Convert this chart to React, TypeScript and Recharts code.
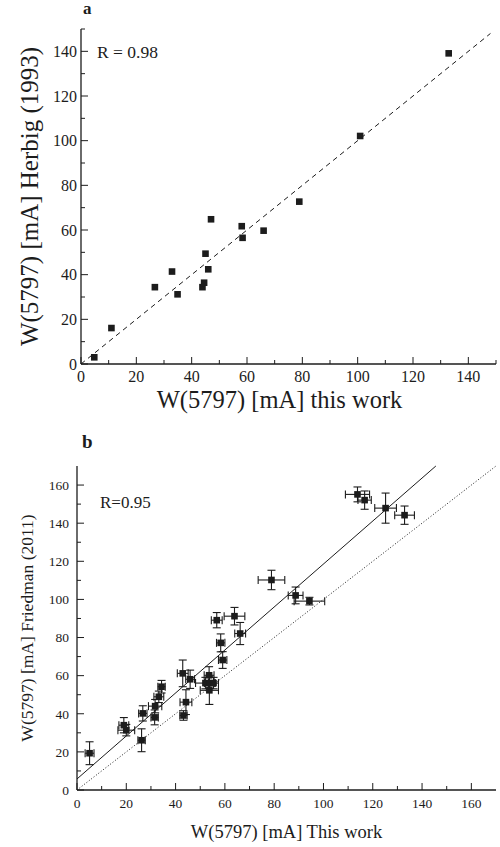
import { ScatterChart, Scatter, XAxis, YAxis, ReferenceLine, ErrorBar } from "recharts";

// panel a: this work vs Herbig (1993)
const aX = [4.8, 11.0, 26.7, 32.9, 34.9, 43.9, 44.5, 45.0, 46.0, 47.0, 58.1, 58.4, 66.0, 78.9, 100.9, 132.9];
const aY = [3.0, 16.1, 34.4, 41.4, 31.2, 34.4, 36.4, 49.4, 42.4, 64.8, 61.7, 56.5, 59.7, 72.7, 102.1, 139.1];
const aTicks = [0, 10, 20, 30, 40, 50, 60, 70, 80, 90, 100, 110, 120, 130, 140, 150];
const aDiag = [{ x: 0, y: 0 }, { x: 148, y: 148 }];

// panel b: this work vs Friedman (2011), with errors
const bX = [5.1, 19.0, 20.0, 26.2, 26.7, 31.5, 31.7, 33.2, 34.3, 43.2, 44.2, 42.9, 45.9, 52.1, 53.6, 53.7, 55.4, 53.7, 56.7, 58.3, 59.1, 63.9, 66.2, 78.9, 88.7, 94.3, 113.8, 116.7, 125.2, 132.9];
const bY = [19.3, 34.0, 31.4, 26.1, 40.2, 38.1, 44.0, 48.9, 54.2, 39.1, 46.1, 61.2, 58.1, 56.1, 60.2, 56.1, 56.1, 52.3, 89.1, 77.2, 68.2, 91.2, 82.1, 110.2, 102.1, 99.1, 155.1, 152.1, 147.9, 144.2];
const bXErr = [1.8, 2.0, 3.4, 1.5, 1.7, 1.5, 2.7, 2.0, 1.5, 1.5, 2.4, 2.2, 1.8, 4.0, 2.0, 2.0, 2.0, 3.7, 2.2, 1.7, 1.7, 4.2, 2.2, 5.4, 3.0, 6.2, 4.9, 2.7, 4.4, 4.0];
const bYErr = [6.0, 4.0, 3.0, 6.0, 4.0, 3.9, 3.5, 3.0, 3.3, 2.5, 6.5, 7.0, 4.8, 3.0, 4.5, 3.0, 3.0, 7.4, 4.0, 4.7, 4.4, 4.6, 5.8, 5.1, 4.4, 2.0, 3.9, 4.8, 7.9, 4.8];
const bTicks = [0, 10, 20, 30, 40, 50, 60, 70, 80, 90, 100, 110, 120, 130, 140, 150, 160];
const bFit = [{ x: 0, y: 5.8 }, { x: 145.6, y: 170 }];
const bDiag = [{ x: 0, y: 0 }, { x: 170, y: 170 }];

const FONT = "'Liberation Serif', 'Times New Roman', serif";
const INK = "#1c1c1c";

const aData = aX.map((x, i) => ({ x, y: aY[i] }));
const bData = bX.map((x, i) => ({ x, y: bY[i], ex: bXErr[i], ey: bYErr[i] }));

// inward tick marks on every side, labels only on the 20s
function Tick(props: any) {
  const { x, y, payload, side, fontSize, gap } = props;
  const v = payload.value;
  const major = v % 20 === 0;
  const len = major ? 7 : 4;
  let line;
  let label = null;
  if (side === "bottom") {
    line = <line x1={x} y1={y} x2={x} y2={y - len} stroke={INK} />;
    if (major)
      label = (
        <text x={x} y={y + gap} textAnchor="middle" dy="0.71em" fontSize={fontSize} fontFamily={FONT} fill={INK}>
          {v}
        </text>
      );
  } else if (side === "top") {
    line = <line x1={x} y1={y} x2={x} y2={y + len} stroke={INK} />;
  } else if (side === "left") {
    line = <line x1={x} y1={y} x2={x + len} y2={y} stroke={INK} />;
    if (major)
      label = (
        <text x={x - gap} y={y} textAnchor="end" dy="0.355em" fontSize={fontSize} fontFamily={FONT} fill={INK}>
          {v}
        </text>
      );
  } else {
    line = <line x1={x} y1={y} x2={x - len} y2={y} stroke={INK} />;
  }
  return (
    <g>
      {line}
      {label}
    </g>
  );
}

const square = (p: any) => <rect x={p.cx - 3.3} y={p.cy - 3.3} width={6.6} height={6.6} fill={INK} />;

export default function App() {
  const axisLine = { stroke: INK, strokeWidth: 1.3 };
  return (
    <div style={{ position: "absolute", left: 0, top: 0, width: 500, height: 847, background: "#fff", fontFamily: FONT }}>
      <div style={{ position: "absolute", left: 0, top: 0 }}>
        <ScatterChart width={500} height={420} margin={{ top: 29, right: 4, bottom: 6, left: 0 }}>
          <XAxis type="number" dataKey="x" domain={[0, 150]} ticks={aTicks} interval={0} allowDataOverflow
            height={50} tickSize={0} tickMargin={0} tickLine={false} axisLine={axisLine}
            tick={(p: any) => <Tick {...p} side="bottom" fontSize={16} gap={7} />}
            label={{ value: "W(5797) [mA] this work", position: "insideBottom", offset: 6, dx: -9, style: { fontSize: 24.5, fontFamily: FONT, fill: INK } }} />
          <XAxis xAxisId="t" orientation="top" type="number" domain={[0, 150]} ticks={aTicks} interval={0} allowDataOverflow
            height={0} tickSize={0} tickMargin={0} tickLine={false} axisLine={axisLine}
            tick={(p: any) => <Tick {...p} side="top" />} />
          <YAxis type="number" dataKey="y" domain={[0, 150]} ticks={aTicks} interval={0} allowDataOverflow
            width={81} tickSize={0} tickMargin={0} tickLine={false} axisLine={axisLine}
            tick={(p: any) => <Tick {...p} side="left" fontSize={16} gap={4} />}
            label={{ value: "W(5797) [mA] Herbig (1993)", angle: -90, position: "insideLeft", offset: 29, style: { fontSize: 25, fontFamily: FONT, fill: INK, textAnchor: "middle" } }} />
          <YAxis yAxisId="r" orientation="right" type="number" domain={[0, 150]} ticks={aTicks} interval={0} allowDataOverflow
            width={0} tickSize={0} tickMargin={0} tickLine={false} axisLine={axisLine}
            tick={(p: any) => <Tick {...p} side="right" />} />
          <ReferenceLine segment={aDiag} stroke={INK} strokeWidth={1} strokeDasharray="5 4" ifOverflow="visible" />
          <Scatter data={aData} shape={square} isAnimationActive={false} />
        </ScatterChart>
      </div>
      <div style={{ position: "absolute", left: 0, top: 400 }}>
        <ScatterChart width={500} height={447} margin={{ top: 66, right: 4, bottom: 7, left: 0 }}>
          <XAxis type="number" dataKey="x" domain={[0, 170]} ticks={bTicks} interval={0} allowDataOverflow
            height={50} tickSize={0} tickMargin={0} tickLine={false} axisLine={axisLine}
            tick={(p: any) => <Tick {...p} side="bottom" fontSize={13.5} gap={8} />}
            label={{ value: "W(5797) [mA] This work", position: "insideBottom", offset: 2, style: { fontSize: 18.5, fontFamily: FONT, fill: INK } }} />
          <XAxis xAxisId="t" orientation="top" type="number" domain={[0, 170]} ticks={bTicks} interval={0} allowDataOverflow
            height={0} tickSize={0} tickMargin={0} tickLine={false} axisLine={axisLine}
            tick={(p: any) => <Tick {...p} side="top" />} />
          <YAxis type="number" dataKey="y" domain={[0, 170]} ticks={bTicks} interval={0} allowDataOverflow
            width={77} tickSize={0} tickMargin={0} tickLine={false} axisLine={axisLine}
            tick={(p: any) => <Tick {...p} side="left" fontSize={13.5} gap={8} />}
            label={{ value: "W(5797) [mA] Friedman (2011)", angle: -90, position: "insideLeft", offset: 27, style: { fontSize: 17.5, fontFamily: FONT, fill: INK, textAnchor: "middle" } }} />
          <YAxis yAxisId="r" orientation="right" type="number" domain={[0, 170]} ticks={bTicks} interval={0} allowDataOverflow
            width={0} tickSize={0} tickMargin={0} tickLine={false} axisLine={axisLine}
            tick={(p: any) => <Tick {...p} side="right" />} />
          <ReferenceLine segment={bDiag} stroke={INK} strokeWidth={1} strokeDasharray="1 2" ifOverflow="visible" />
          <ReferenceLine segment={bFit} stroke={INK} strokeWidth={1} ifOverflow="visible" />
          <Scatter data={bData} shape={square} isAnimationActive={false}>
            <ErrorBar dataKey="ex" direction="x" width={4} stroke={INK} strokeWidth={1.1} isAnimationActive={false} />
            <ErrorBar dataKey="ey" direction="y" width={4} stroke={INK} strokeWidth={1.1} isAnimationActive={false} />
          </Scatter>
        </ScatterChart>
      </div>
      <div style={{ position: "absolute", left: 83, top: 0, fontSize: 17, fontWeight: "bold", lineHeight: 1, color: INK }}>a</div>
      <div style={{ position: "absolute", left: 82, top: 432, fontSize: 19, fontWeight: "bold", lineHeight: 1, color: INK }}>b</div>
      <div style={{ position: "absolute", left: 97, top: 43.6, fontSize: 17.5, lineHeight: 1, color: INK }}>R = 0.98</div>
      <div style={{ position: "absolute", left: 100, top: 494, fontSize: 17, lineHeight: 1, color: INK }}>R=0.95</div>
    </div>
  );
}
